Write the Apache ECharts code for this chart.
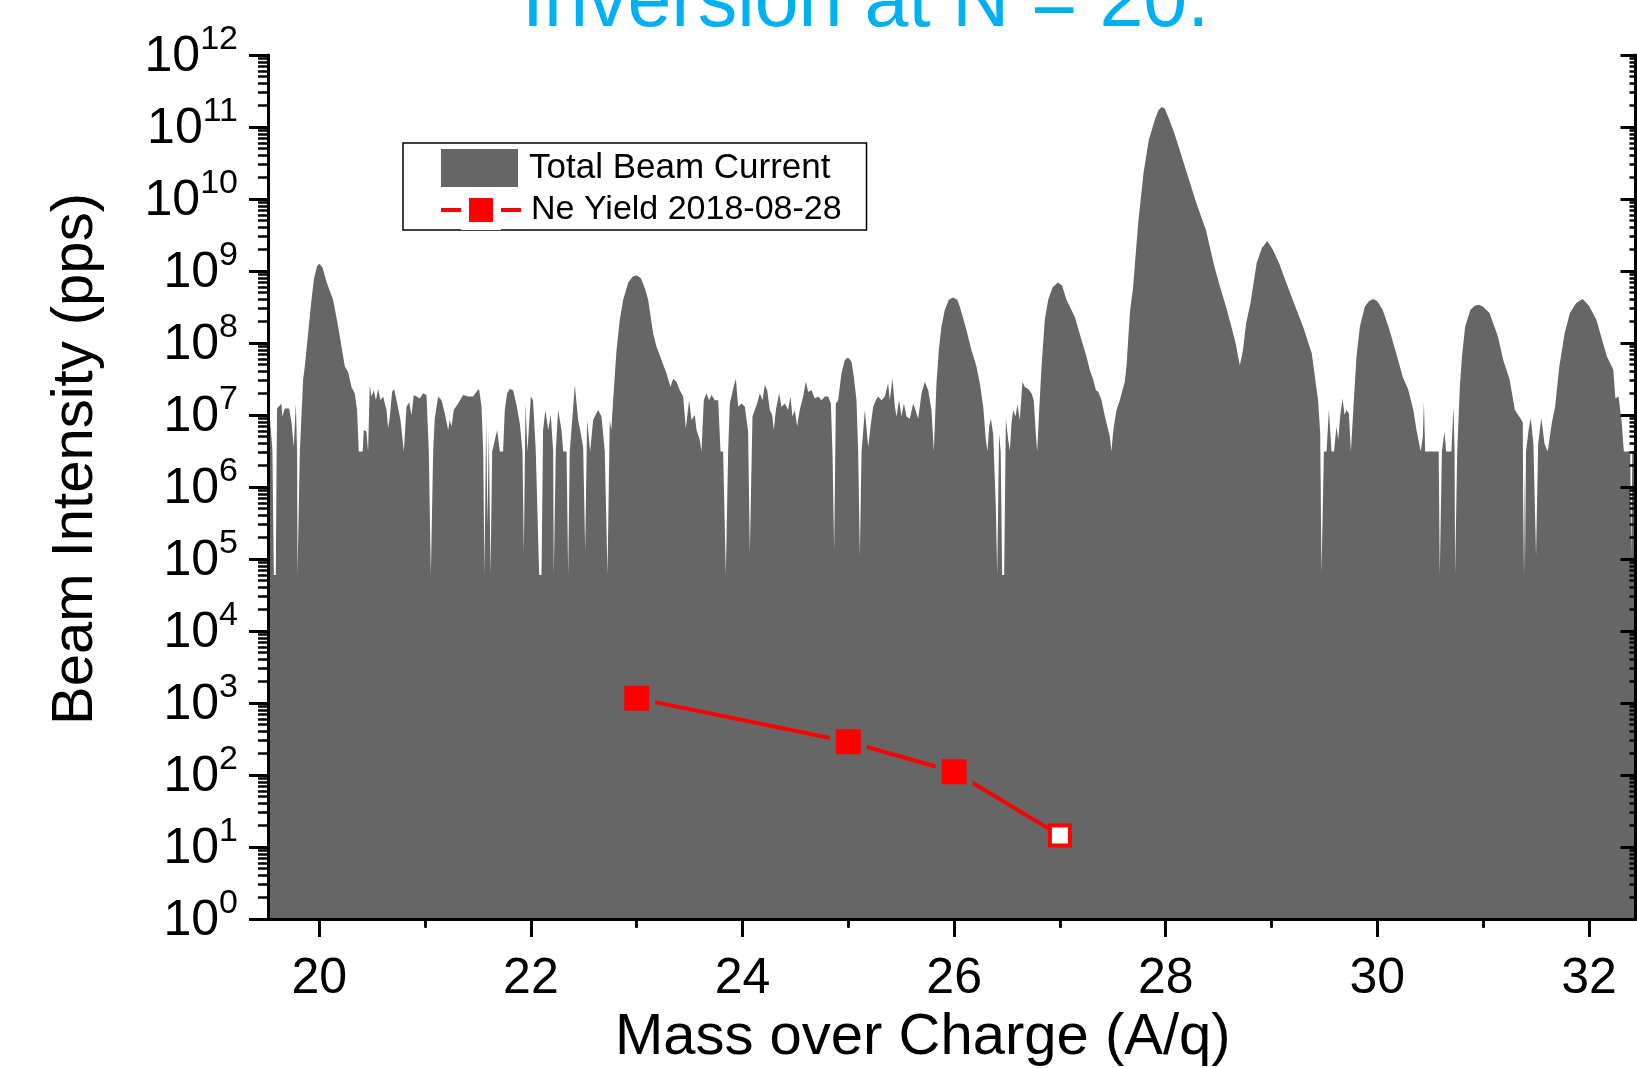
<!DOCTYPE html>
<html>
<head>
<meta charset="utf-8">
<title>Beam Intensity vs Mass over Charge</title>
<script src="https://cdn.jsdelivr.net/npm/echarts@6.0.0/dist/echarts.min.js"></script>
<style>
  html, body { margin: 0; padding: 0; background: #fff; }
  #chart { width: 1637px; height: 1068px; }
</style>
</head>
<body>
<div id="chart"></div>
<script>
// total beam current spectrum: [A/q, pps]
const beamSpectrum = [
  [19.515, 1.8e7], [19.532, 9.5e6], [19.557, 3.2e6], [19.566, 3.1e6], [19.570, 6.0e4], [19.589, 6.0e4], [19.597, 3.1e6],
  [19.601, 1.23e7], [19.642, 1.45e7], [19.650, 9.5e6], [19.658, 1.0e7], [19.674, 1.23e7], [19.715, 1.23e7], [19.737, 7.9e6],
  [19.759, 3.6e6], [19.778, 1.45e7], [19.790, 3.1e6], [19.794, 6.0e4], [19.800, 6.0e4], [19.816, 3.1e6],
  [19.847, 3.1e7], [19.863, 4.7e7], [19.894, 1.35e8], [19.926, 4.0e8], [19.950, 7.9e8], [19.980, 1.17e9], [20.000, 1.26e9],
  [20.030, 1.12e9], [20.070, 6.9e8], [20.130, 4.0e8], [20.178, 1.7e8], [20.210, 8.9e7], [20.241, 4.7e7], [20.272, 4.0e7],
  [20.304, 2.45e7], [20.335, 2.0e7], [20.357, 1.17e7], [20.373, 3.1e6], [20.410, 3.1e6], [20.420, 6.2e6], [20.445, 5.9e6],
  [20.461, 3.1e6], [20.477, 2.6e7], [20.493, 1.8e7], [20.515, 2.2e7], [20.535, 1.6e7], [20.556, 2.3e7], [20.578, 1.6e7],
  [20.603, 1.8e7], [20.635, 1.17e7], [20.650, 6.6e6], [20.667, 9.5e6], [20.688, 2.1e7], [20.707, 2.3e7], [20.730, 1.6e7],
  [20.767, 8.5e6], [20.799, 3.1e6], [20.810, 3.1e6], [20.824, 1.3e7], [20.849, 1.5e7], [20.871, 1.0e7], [20.893, 1.9e7],
  [20.918, 1.8e7], [20.950, 1.7e7], [20.981, 2.0e7], [21.013, 1.9e7], [21.035, 3.1e6], [21.054, 6.0e4], [21.076, 3.1e6],
  [21.091, 8.9e6], [21.123, 1.8e7], [21.155, 1.6e7], [21.186, 1.05e7], [21.218, 6.2e6], [21.233, 8.5e6], [21.250, 6.9e6],
  [21.271, 1.17e7], [21.312, 1.45e7], [21.359, 1.9e7], [21.407, 1.8e7], [21.454, 1.8e7], [21.485, 2.1e7], [21.510, 2.3e7],
  [21.533, 1.3e7], [21.549, 3.1e6], [21.561, 6.0e4], [21.577, 8.5e6], [21.590, 2.8e5], [21.602, 6.2e6], [21.618, 6.0e4],
  [21.634, 3.1e6], [21.681, 6.2e6], [21.706, 3.1e6], [21.737, 3.1e6], [21.753, 1.17e7], [21.775, 2.0e7], [21.800, 2.3e7],
  [21.832, 2.2e7], [21.863, 1.4e7], [21.895, 7.6e6], [21.920, 3.1e6], [21.933, 1.2e5], [21.949, 1.45e7], [21.967, 3.1e6],
  [21.999, 1.8e7], [22.020, 1.6e7], [22.046, 3.1e6], [22.078, 6.0e4], [22.100, 6.0e4], [22.115, 6.2e6], [22.137, 1.17e7],
  [22.163, 6.2e6], [22.188, 1.0e7], [22.210, 3.1e6], [22.216, 6.0e4], [22.235, 3.1e6], [22.257, 1.17e7], [22.289, 6.2e6],
  [22.305, 3.1e6], [22.337, 3.1e6], [22.352, 6.0e4], [22.367, 3.1e6], [22.393, 9.5e6], [22.415, 2.6e7], [22.446, 8.5e6],
  [22.471, 5.6e6], [22.494, 3.5e6], [22.513, 1.3e5], [22.531, 8.5e6], [22.560, 3.1e6], [22.588, 8.5e6], [22.635, 1.17e7],
  [22.667, 9.5e6], [22.698, 3.1e6], [22.724, 6.0e4], [22.745, 8.5e6], [22.760, 6.2e6], [22.777, 1.6e7], [22.809, 7.9e7],
  [22.840, 2.1e8], [22.872, 4.0e8], [22.920, 6.9e8], [22.960, 8.3e8], [23.000, 8.7e8], [23.040, 7.9e8], [23.080, 5.6e8],
  [23.108, 4.0e8], [23.155, 1.35e8], [23.187, 8.9e7], [23.234, 5.8e7], [23.281, 3.8e7], [23.319, 2.45e7], [23.344, 3.2e7],
  [23.375, 2.9e7], [23.407, 2.2e7], [23.439, 1.8e7], [23.464, 6.5e6], [23.495, 1.6e7], [23.518, 8.5e6], [23.549, 1.0e7],
  [23.565, 6.2e6], [23.596, 4.5e6], [23.612, 3.1e6], [23.634, 1.6e7], [23.659, 2.0e7], [23.684, 1.6e7], [23.707, 1.9e7],
  [23.738, 1.6e7], [23.770, 1.6e7], [23.792, 3.1e6], [23.817, 3.1e6], [23.842, 6.0e4], [23.864, 3.1e6], [23.880, 1.45e7],
  [23.911, 2.3e7], [23.937, 3.2e7], [23.959, 1.3e7], [23.990, 1.45e7], [24.022, 1.3e7], [24.053, 5.9e6], [24.069, 1.2e5],
  [24.094, 9.5e6], [24.116, 1.17e7], [24.138, 1.45e7], [24.164, 2.0e7], [24.189, 1.6e7], [24.211, 2.6e7], [24.233, 2.2e7],
  [24.258, 1.17e7], [24.280, 1.0e7], [24.296, 6.2e6], [24.315, 1.17e7], [24.346, 2.0e7], [24.368, 1.3e7], [24.400, 1.45e7],
  [24.431, 1.17e7], [24.453, 1.8e7], [24.472, 9.5e6], [24.494, 1.17e7], [24.516, 6.9e6], [24.541, 1.17e7], [24.573, 1.8e7],
  [24.598, 2.9e7], [24.620, 2.1e7], [24.652, 2.2e7], [24.683, 1.7e7], [24.715, 1.8e7], [24.747, 1.6e7], [24.778, 1.8e7],
  [24.810, 1.8e7], [24.835, 1.45e7], [24.850, 3.1e6], [24.866, 1.3e5], [24.882, 1.45e7], [24.904, 1.6e7], [24.935, 3.8e7],
  [24.967, 5.8e7], [24.998, 6.3e7], [25.030, 5.5e7], [25.052, 3.4e7], [25.077, 1.6e7], [25.093, 3.1e6], [25.109, 1.1e5],
  [25.125, 3.1e6], [25.156, 1.17e7], [25.188, 3.6e6], [25.210, 6.9e6], [25.235, 1.3e7], [25.260, 1.6e7], [25.282, 1.8e7],
  [25.313, 1.6e7], [25.345, 1.8e7], [25.376, 2.75e7], [25.392, 1.6e7], [25.417, 3.2e7], [25.440, 1.3e7], [25.455, 9.5e6],
  [25.480, 1.6e7], [25.502, 9.5e6], [25.525, 1.45e7], [25.550, 9.5e6], [25.581, 8.9e6], [25.613, 1.45e7], [25.635, 1.17e7],
  [25.660, 8.9e6], [25.692, 2.0e7], [25.723, 2.9e7], [25.755, 2.2e7], [25.786, 1.17e7], [25.808, 3.1e6], [25.833, 2.75e7],
  [25.855, 7.9e7], [25.880, 1.7e8], [25.912, 2.9e8], [25.950, 4.0e8], [25.990, 4.3e8], [26.030, 4.0e8], [26.054, 3.2e8],
  [26.117, 1.5e8], [26.164, 7.9e7], [26.211, 4.7e7], [26.243, 2.75e7], [26.275, 1.3e7], [26.300, 4.5e6], [26.315, 3.1e6],
  [26.331, 6.9e6], [26.347, 8.9e6], [26.369, 5.5e6], [26.394, 5.4e5], [26.407, 6.0e4], [26.415, 6.0e4], [26.425, 5.5e6],
  [26.440, 3.1e6], [26.454, 6.0e4], [26.473, 6.0e4], [26.489, 8.9e6], [26.511, 4.5e6], [26.527, 3.2e6], [26.542, 7.6e6],
  [26.558, 1.17e7], [26.580, 9.5e6], [26.599, 1.4e7], [26.620, 8.5e6], [26.646, 2.9e7], [26.668, 2.45e7], [26.700, 2.3e7],
  [26.731, 2.0e7], [26.753, 1.6e7], [26.772, 5.5e6], [26.785, 3.1e6], [26.804, 1.17e7], [26.826, 4.7e7], [26.857, 2.1e8],
  [26.889, 4.0e8], [26.930, 5.9e8], [26.980, 6.9e8], [27.020, 6.3e8], [27.062, 4.0e8], [27.141, 2.3e8], [27.204, 1.1e8],
  [27.251, 6.5e7], [27.283, 4.2e7], [27.314, 3.1e7], [27.340, 2.2e7], [27.362, 2.1e7], [27.393, 1.6e7], [27.425, 9.5e6],
  [27.456, 6.2e6], [27.472, 5.0e6], [27.487, 3.1e6], [27.503, 5.9e6], [27.519, 8.5e6], [27.535, 1.17e7], [27.566, 1.6e7],
  [27.591, 2.2e7], [27.613, 2.9e7], [27.629, 4.7e7], [27.645, 1.1e8], [27.661, 2.6e8], [27.676, 4.0e8], [27.690, 5.6e8],
  [27.740, 4.7e9], [27.790, 2.3e10], [27.840, 6.6e10], [27.900, 1.3e11], [27.930, 1.7e11], [27.960, 1.9e11], [27.990, 1.8e11],
  [28.030, 1.3e11], [28.080, 8.3e10], [28.140, 4.4e10], [28.200, 2.3e10], [28.290, 8.7e9], [28.380, 3.7e9], [28.460, 1.15e9],
  [28.520, 5.6e8], [28.570, 3.2e8], [28.620, 1.7e8], [28.660, 1.0e8], [28.700, 4.9e7], [28.730, 7.9e7], [28.760, 1.9e8],
  [28.800, 3.5e8], [28.860, 1.3e9], [28.910, 2.1e9], [28.960, 2.6e9], [29.010, 2.0e9], [29.070, 1.3e9], [29.140, 6.8e8],
  [29.200, 4.0e8], [29.240, 2.8e8], [29.300, 1.66e8], [29.380, 7.2e7], [29.410, 3.4e7], [29.440, 1.6e7], [29.460, 5.6e6],
  [29.472, 6.3e4], [29.485, 6.3e4], [29.495, 3.1e6], [29.520, 3.1e6], [29.542, 1.17e7], [29.567, 3.1e6], [29.590, 3.1e6],
  [29.614, 6.9e6], [29.630, 4.5e6], [29.650, 1.0e7], [29.671, 1.7e7], [29.690, 1.0e7], [29.709, 1.17e7], [29.731, 1.05e7],
  [29.750, 3.1e6], [29.760, 3.1e6], [29.778, 1.6e7], [29.803, 6.5e7], [29.835, 1.7e8], [29.882, 3.2e8], [29.920, 3.8e8],
  [29.960, 4.1e8], [30.000, 3.8e8], [30.050, 2.9e8], [30.110, 1.6e8], [30.170, 7.9e7], [30.240, 3.4e7], [30.290, 2.3e7],
  [30.340, 1.17e7], [30.370, 6.2e6], [30.410, 3.1e6], [30.430, 5.0e6], [30.440, 1.5e7], [30.452, 3.1e6], [30.580, 3.1e6],
  [30.590, 6.0e4], [30.600, 6.0e4], [30.610, 3.1e6], [30.635, 5.9e6], [30.650, 3.1e6], [30.700, 3.1e6], [30.720, 1.3e7],
  [30.730, 3.1e6], [30.735, 6.0e4], [30.745, 6.0e4], [30.755, 3.1e6], [30.780, 2.5e7], [30.800, 6.5e7], [30.830, 1.7e8],
  [30.880, 2.9e8], [30.920, 3.3e8], [30.960, 3.4e8], [31.000, 3.2e8], [31.060, 2.6e8], [31.140, 1.23e8], [31.190, 5.8e7],
  [31.250, 3.1e7], [31.300, 1.17e7], [31.350, 9.1e6], [31.375, 7.9e6], [31.380, 6.0e4], [31.388, 1.7e6], [31.395, 6.0e4],
  [31.405, 3.1e6], [31.430, 6.3e6], [31.450, 9.1e6], [31.475, 4.0e6], [31.500, 1.1e5], [31.520, 4.0e6], [31.550, 9.1e6],
  [31.580, 4.0e6], [31.610, 3.1e6], [31.650, 7.9e6], [31.680, 1.3e7], [31.720, 4.7e7], [31.770, 1.35e8], [31.820, 2.6e8],
  [31.880, 3.6e8], [31.940, 4.1e8], [32.000, 3.3e8], [32.070, 2.1e8], [32.170, 6.5e7], [32.230, 4.3e7], [32.250, 1.7e7],
  [32.280, 1.8e7], [32.310, 7.8e6], [32.330, 3.1e6], [32.390, 3.1e6], [32.400, 1.1e5], [32.410, 3.1e6], [32.450, 3.1e6]
];

// Ne yield points
const neYieldAq = [23, 25, 26, 27];
const neYieldPps = [1160, 290, 111, 14.5];
const neYieldOpen = [false, false, false, true];

const xMajorTicks = [20, 22, 24, 26, 28, 30, 32];
const xMinorTicks = [21, 23, 25, 27, 29, 31];
const yDecades = [0, 1, 2, 3, 4, 5, 6, 7, 8, 9, 10, 11, 12];

const X_MIN = 19.515, X_MAX = 32.44;
const FONT = 'Liberation Sans';

// log minor tick positions (2..9 in each decade), on the exponent axis
const yMinorTicks = [];
yDecades.slice(0, -1).forEach(function (d) {
  for (let k = 2; k <= 9; k++) yMinorTicks.push(d + Math.log10(k));
});

const black = { color: '#000', width: 3 };
const tickLine = { color: '#000', width: 3 };
const minorLine = { color: '#000', width: 2.5 };

function frameX(position, ticks, len, inside) {
  return {
    type: 'value', position: position, min: X_MIN, max: X_MAX, z: 5,
    axisLine: { show: false },
    axisTick: { customValues: ticks, length: len, inside: inside, lineStyle: len > 12 ? tickLine : minorLine },
    axisLabel: { show: false },
    splitLine: { show: false }
  };
}
function frameY(position, ticks, len, inside) {
  return {
    type: 'value', position: position, min: 0, max: 12, z: 5,
    axisLine: { show: false },
    axisTick: { customValues: ticks, length: len, inside: inside, lineStyle: len > 12 ? tickLine : minorLine },
    axisLabel: { show: false },
    splitLine: { show: false }
  };
}

const xBottom = frameX('bottom', xMajorTicks, 18, false);
xBottom.axisLine = { lineStyle: black };
xBottom.axisLabel = { customValues: xMajorTicks, margin: 35, fontSize: 50, color: '#000', fontFamily: FONT };
xBottom.name = 'Mass over Charge (A/q)';
xBottom.nameLocation = 'middle';
xBottom.nameGap = 86;
xBottom.nameTextStyle = { fontSize: 58, color: '#000', fontFamily: FONT, padding: [0, 58, 0, 0] };

const xTop = frameX('top', xMajorTicks, 15, true);
xTop.axisLine = { lineStyle: black };

const yLeft = frameY('left', yDecades, 19, false);
yLeft.axisLine = { lineStyle: black };
yLeft.axisLabel = {
  customValues: yDecades, margin: 30, padding: [5, 0, 0, 0],
  formatter: function (v) { return '{b|10}{s|' + v + '}'; },
  rich: {
    b: { fontSize: 50, lineHeight: 50, color: '#000', fontFamily: FONT, verticalAlign: 'bottom' },
    s: { fontSize: 34, lineHeight: 34, color: '#000', fontFamily: FONT, verticalAlign: 'bottom', padding: [0, 0, 26, 0] }
  }
};
yLeft.name = 'Beam Intensity (pps)';
yLeft.nameLocation = 'middle';
yLeft.nameGap = 163;
yLeft.nameTextStyle = { fontSize: 58, color: '#000', fontFamily: FONT, padding: [0, 0, 0, 56] };

const yRight = frameY('right', yDecades, 15, true);
yRight.axisLine = { lineStyle: black };

const option = {
  animation: false,
  backgroundColor: '#fff',
  textStyle: { fontFamily: FONT },
  title: {
    text: 'Inversion at N = 20.',
    left: 522, top: -35, padding: 0,
    textStyle: { color: '#00B0F0', fontSize: 79, fontWeight: 'normal', fontFamily: FONT }
  },
  grid: { left: 268, right: 1.5, top: 55, bottom: 149, containLabel: false, outerBoundsMode: 'none' },
  legend: [
    {
      left: 403, top: 143, orient: 'vertical',
      padding: [6, 36, 43, 38], borderColor: '#000', borderWidth: 1.5, backgroundColor: '#fff',
      itemWidth: 77, itemHeight: 38,
      data: [{ name: 'Total Beam Current', icon: 'rect' }],
      textStyle: { fontSize: 35, color: '#000', fontFamily: FONT, padding: [0, 0, 0, 6] }
    },
    {
      left: 439, top: 190, z: 6, padding: 0,
      itemWidth: 80, itemHeight: 40,
      itemStyle: { borderColor: '#fff', borderWidth: 8 },
      lineStyle: { width: 4, color: '#ff0000' },
      data: [{ name: 'Ne Yield 2018-08-28' }],
      textStyle: { fontSize: 34, color: '#000', fontFamily: FONT, padding: [0, 0, 0, 5] }
    }
  ],
  xAxis: [
    xBottom,
    frameX('bottom', xMinorTicks, 9, false),
    xTop,
    frameX('top', xMinorTicks, 8, true)
  ],
  yAxis: [
    { type: 'log', logBase: 10, min: 1, max: 1e12, position: 'left', show: false },
    yLeft,
    frameY('left', yMinorTicks, 10, false),
    yRight,
    frameY('right', yMinorTicks, 6, true)
  ],
  series: [
    {
      name: 'Total Beam Current',
      type: 'line',
      xAxisIndex: 0, yAxisIndex: 0,
      data: beamSpectrum,
      symbol: 'none', showSymbol: false, smooth: false, sampling: null,
      itemStyle: { color: '#666666' },
      lineStyle: { width: 0, color: '#666666' },
      areaStyle: { color: '#666666', opacity: 1, origin: 1 },
      z: 1
    },
    {
      name: 'Ne Yield 2018-08-28',
      type: 'line',
      xAxisIndex: 0, yAxisIndex: 0,
      data: neYieldAq.map(function (aq, i) {
        if (neYieldOpen[i]) {
          return { value: [aq, neYieldPps[i]], symbolSize: 20,
                   itemStyle: { color: '#fff', borderColor: '#ff0000', borderWidth: 4 } };
        }
        return [aq, neYieldPps[i]];
      }),
      symbol: 'rect', symbolSize: 31, showAllSymbol: true,
      itemStyle: { color: '#ff0000', borderColor: '#666666', borderWidth: 6 },
      lineStyle: { color: '#ff0000', width: 4 },
      z: 6
    }
  ]
};

const chart = echarts.init(document.getElementById('chart'), null, { renderer: 'canvas' });
chart.setOption(option);
</script>
</body>
</html>
